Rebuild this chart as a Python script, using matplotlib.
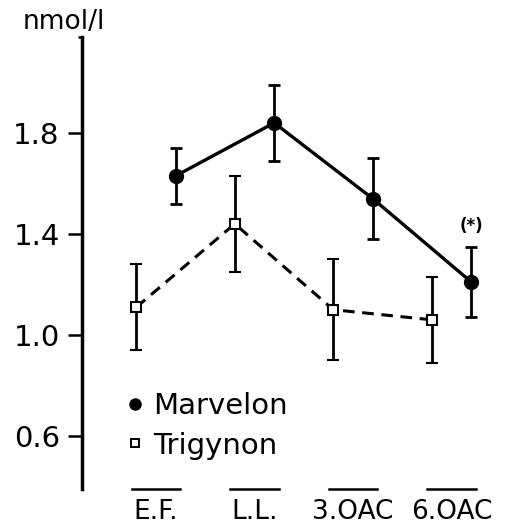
import matplotlib
matplotlib.use('Agg')
import matplotlib.pyplot as plt
from matplotlib.lines import Line2D

# phases of the cycle
phases = ['E.F.', 'L.L.', '3.OAC', '6.OAC']

# Marvelon group (mean and error, nmol/l)
marvelon_mean = [1.63, 1.84, 1.54, 1.21]
marvelon_err = [0.11, 0.15, 0.16, 0.14]

# Trigynon group (mean and error, nmol/l)
trigynon_mean = [1.11, 1.44, 1.10, 1.06]
trigynon_err = [0.17, 0.19, 0.20, 0.17]

y_ticks = [0.6, 1.0, 1.4, 1.8]

fig = plt.figure(figsize=(5.19, 5.28), dpi=100)
ax = fig.add_axes([82 / 519, 1 - 489 / 528, 1 - 82 / 519, (489 - 37) / 528])

x = list(range(len(phases)))
x_trig = [i - 0.2 for i in x]
x_marv = [i + 0.2 for i in x]

# Marvelon: solid line, filled circles
ax.errorbar(x_marv, marvelon_mean, yerr=marvelon_err, color='black',
            linestyle='-', linewidth=2.4, marker='o', markersize=10,
            markerfacecolor='black', elinewidth=2.0, capsize=4.2, capthick=2.0,
            zorder=3)

# Trigynon: dashed line, open squares
ax.errorbar(x_trig, trigynon_mean, yerr=trigynon_err, color='black',
            linestyle=(0, (3.8, 2.5)), linewidth=2.2, marker='s', markersize=6.5,
            markerfacecolor='white', markeredgewidth=1.5, elinewidth=2.0,
            capsize=4.2, capthick=2.0, zorder=3)

# significance mark above last Marvelon point
ax.text(x_marv[3], 1.43, '(*)', ha='center', va='center', fontsize=12,
        fontweight='bold')

ax.set_xlim(-0.751, 3.685)
ax.set_ylim(0.39, 2.18)

# only the left axis is shown
for side in ['top', 'right', 'bottom']:
    ax.spines[side].set_visible(False)
ax.spines['left'].set_linewidth(2.5)

ax.set_yticks(y_ticks)
ax.set_yticklabels([f'{v:.1f}' for v in y_ticks])
ax.set_yticks([2.18], minor=True)
ax.tick_params(axis='y', which='major', direction='out', length=10, width=1.8,
               pad=6, labelsize=21)
ax.tick_params(axis='y', which='minor', direction='out', length=3, width=1.8)

# category labels under short bars
ax.set_xticks(x)
ax.set_xticklabels(phases)
ax.tick_params(axis='x', length=0, pad=7, labelsize=19)
for i in x:
    ax.plot([i - 0.244, i + 0.244], [0, 0], color='black', linewidth=1.8,
            transform=ax.get_xaxis_transform(), clip_on=False)

fig.text(23 / 519, 1 - 22 / 528, 'nmol/l', ha='left', va='center', fontsize=19)

handles = [
    Line2D([], [], linestyle='none', marker='o', markersize=8,
           markerfacecolor='black', color='black'),
    Line2D([], [], linestyle='none', marker='s', markersize=5.5,
           markerfacecolor='white', markeredgewidth=1.4, color='black'),
]
ax.legend(handles, ['Marvelon', 'Trigynon'], loc='upper left',
          bbox_to_anchor=(125 / 519, 1 - 392 / 528),
          bbox_transform=fig.transFigure, frameon=False, fontsize=21,
          handlelength=0.7, handletextpad=0.25, labelspacing=0.4,
          borderpad=0, borderaxespad=0)

plt.savefig('out.png', dpi=100)
plt.close()
